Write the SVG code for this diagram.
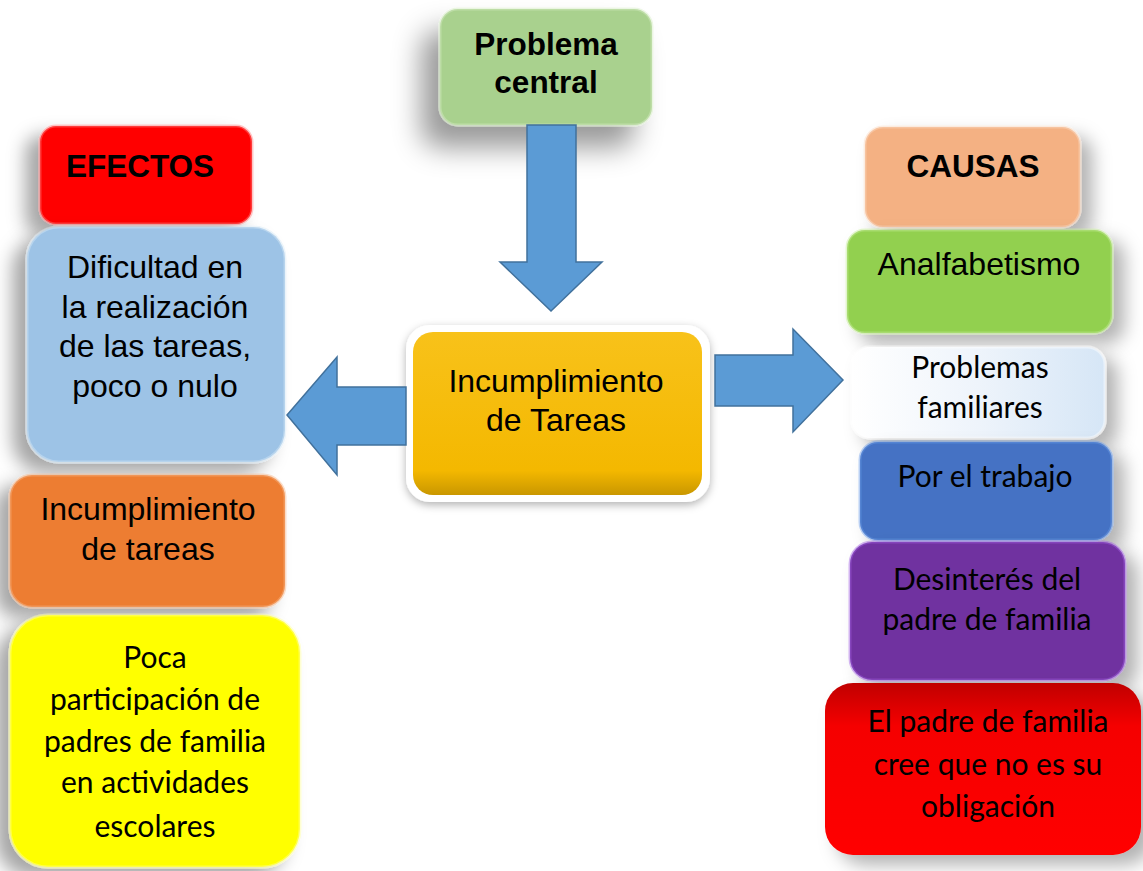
<svg xmlns="http://www.w3.org/2000/svg" width="1143" height="871" viewBox="0 0 1143 871">
<defs>
<style>
.a{font-family:"Liberation Sans",Arial,sans-serif;font-size:32px;fill:#000;text-anchor:middle}
.b{font-family:"Liberation Sans",Arial,sans-serif;font-size:31.5px;font-weight:bold;fill:#000;text-anchor:middle}
.c{font-family:Lato,"Noto Sans",sans-serif;font-size:30px;fill:#000;text-anchor:middle}
.arrow{fill:#5b9bd5;stroke:#41719c;stroke-width:1.5}
.box{stroke-width:3;stroke-opacity:0.45}
</style>
<filter id="shL" x="-40%" y="-40%" width="180%" height="180%">
<feGaussianBlur in="SourceAlpha" stdDeviation="9"/>
<feOffset dx="-14" dy="10" result="o"/>
<feFlood flood-color="#000" flood-opacity="0.35"/>
<feComposite in2="o" operator="in"/>
<feMerge><feMergeNode/><feMergeNode in="SourceGraphic"/></feMerge>
</filter>
<filter id="shR" x="-40%" y="-40%" width="180%" height="180%">
<feGaussianBlur in="SourceAlpha" stdDeviation="9"/>
<feOffset dx="12" dy="10" result="o"/>
<feFlood flood-color="#000" flood-opacity="0.3"/>
<feComposite in2="o" operator="in"/>
<feMerge><feMergeNode/><feMergeNode in="SourceGraphic"/></feMerge>
</filter>
<filter id="shC" x="-60%" y="-60%" width="220%" height="220%">
<feGaussianBlur in="SourceAlpha" stdDeviation="14"/>
<feOffset dx="-18" dy="22" result="o"/>
<feFlood flood-color="#000" flood-opacity="0.4"/>
<feComposite in2="o" operator="in"/>
<feMerge><feMergeNode/><feMergeNode in="SourceGraphic"/></feMerge>
</filter>
<filter id="shM" x="-20%" y="-20%" width="140%" height="140%">
<feGaussianBlur in="SourceAlpha" stdDeviation="4"/>
<feOffset dx="0" dy="3" result="o"/>
<feFlood flood-color="#000" flood-opacity="0.3"/>
<feComposite in2="o" operator="in"/>
<feMerge><feMergeNode/><feMergeNode in="SourceGraphic"/></feMerge>
</filter>
<linearGradient id="gOr" x1="0" y1="0" x2="0" y2="1">
<stop offset="0" stop-color="#f8c21a"/><stop offset="0.85" stop-color="#f4b800"/><stop offset="1" stop-color="#c99700"/>
</linearGradient>
<linearGradient id="gRed" x1="0" y1="0" x2="0" y2="1">
<stop offset="0" stop-color="#c00000"/><stop offset="0.25" stop-color="#f50000"/><stop offset="1" stop-color="#ff0000"/>
</linearGradient>
<linearGradient id="gLb" x1="0" y1="0" x2="1" y2="0">
<stop offset="0" stop-color="#ffffff"/><stop offset="0.5" stop-color="#eef4fb"/><stop offset="1" stop-color="#d6e6f6"/>
</linearGradient>
</defs>
<rect width="1143" height="871" fill="#fff"/>

<g id="problema-central">
<rect x="440" y="9" width="212" height="116" rx="18" fill="#a9d18e" stroke="#d4ebc4" class="box" filter="url(#shC)"/>
<text class="b" x="546" y="55">Problema</text>
<text class="b" x="546" y="93">central</text>
</g>

<g id="efectos">
<rect x="40" y="126" width="212" height="98" rx="16" fill="#ff0000" stroke="#ff8080" class="box" filter="url(#shL)"/>
<text class="b" x="140" y="177">EFECTOS</text>
</g>

<g id="dificultad">
<rect x="27" y="227" width="258" height="235" rx="32" fill="#9dc3e6" stroke="#d6e8f7" class="box" filter="url(#shL)"/>
<text class="a" x="155" y="278">Dificultad en</text>
<text class="a" x="155" y="318">la realización</text>
<text class="a" x="155" y="357">de las tareas,</text>
<text class="a" x="155" y="397">poco o nulo</text>
</g>

<g id="incumplimiento-efecto">
<rect x="10" y="475" width="275" height="132" rx="22" fill="#ed7d31" stroke="#f6b58a" class="box" filter="url(#shL)"/>
<text class="a" x="148" y="520">Incumplimiento</text>
<text class="a" x="148" y="560">de tareas</text>
</g>

<g id="poca-participacion">
<rect x="10" y="615" width="290" height="252" rx="38" fill="#ffff00" stroke="#ffffa0" class="box" filter="url(#shL)"/>
<text class="c" x="155" y="668">Poca</text>
<text class="c" x="155" y="710">participación de</text>
<text class="c" x="155" y="752">padres de familia</text>
<text class="c" x="155" y="793">en actividades</text>
<text class="c" x="155" y="837">escolares</text>
</g>

<g id="incumplimiento-central">
<rect x="406" y="325" width="304" height="177" rx="24" fill="#ffffff" filter="url(#shM)"/>
<rect x="413" y="332" width="289" height="163" rx="20" fill="url(#gOr)"/>
<text class="a" x="556" y="392">Incumplimiento</text>
<text class="a" x="556" y="431">de Tareas</text>
</g>

<g id="causas">
<rect x="865" y="127" width="215" height="100" rx="18" fill="#f4b183" stroke="#fbd9c0" class="box" filter="url(#shR)"/>
<text class="b" x="973" y="177">CAUSAS</text>
</g>

<g id="analfabetismo">
<rect x="847" y="230" width="265" height="103" rx="18" fill="#92d050" stroke="#c4ec95" class="box" filter="url(#shR)"/>
<text class="a" x="979" y="275">Analfabetismo</text>
</g>

<g id="problemas-familiares">
<rect x="852" y="347" width="253" height="91" rx="18" fill="url(#gLb)" stroke="#ffffff" class="box" filter="url(#shR)"/>
<text class="c" x="980" y="378">Problemas</text>
<text class="c" x="980" y="418">familiares</text>
</g>

<g id="por-el-trabajo">
<rect x="860" y="442" width="252" height="98" rx="18" fill="#4472c4" stroke="#6b9be6" class="box" filter="url(#shR)"/>
<text class="c" x="985" y="487">Por el trabajo</text>
</g>

<g id="desinteres">
<rect x="850" y="542" width="275" height="138" rx="22" fill="#7030a0" stroke="#a060e0" class="box" filter="url(#shR)"/>
<text class="c" x="987" y="590">Desinterés del</text>
<text class="c" x="987" y="630">padre de familia</text>
</g>

<g id="no-obligacion">
<rect x="825" y="683" width="316" height="172" rx="28" fill="url(#gRed)" filter="url(#shR)"/>
<text class="c" x="988" y="732">El padre de familia</text>
<text class="c" x="988" y="775">cree que no es su</text>
<text class="c" x="988" y="817">obligación</text>
</g>

<g id="connectors">
<polygon class="arrow" points="527,125 576,125 576,262 602,262 551,311 500,262 527,262"/>
<polygon class="arrow" points="406,387 337,387 337,357 287,415 337,475 337,445 406,445"/>
<polygon class="arrow" points="715,355 793,355 793,329 843,380 793,432 793,406 715,406"/>
</g>
</svg>
